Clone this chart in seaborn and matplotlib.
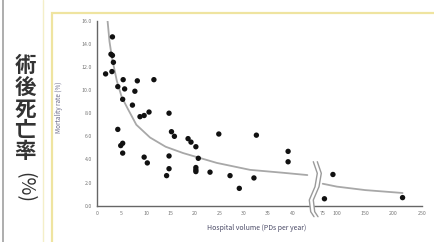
"""
術後死亡率 vs hospital volume (scatter + fitted curve, broken x axis).
"""

import matplotlib
matplotlib.use("Agg")
import matplotlib.pyplot as plt
from matplotlib.patches import Polygon, Rectangle
import seaborn as sns
import pandas as pd
import numpy as np

# --- data ---
volume = [1.7, 3.1, 2.8, 3.1, 3.3, 3.0, 4.2, 5.3, 5.6, 5.2, 4.2, 4.8, 5.2, 5.2,
          7.2, 7.7, 8.2, 8.75, 9.6, 10.6, 11.6, 9.6, 10.25, 14.7, 15.2, 15.8,
          14.7, 14.7, 14.2, 18.6, 19.2, 20.2, 20.7, 20.2, 20.2, 20.2, 23.1,
          24.9, 27.2, 29.1, 32.1, 32.6, 39.1, 39.1, 93, 78, 216]
mortality = [11.4, 14.6, 13.1, 13.0, 12.4, 11.6, 10.3, 10.9, 10.1, 9.2, 6.6,
             5.2, 5.4, 4.55, 8.7, 9.9, 10.8, 7.7, 7.8, 8.1, 10.9, 4.2, 3.7,
             8.0, 6.4, 6.0, 4.3, 3.2, 2.6, 5.8, 5.5, 5.1, 4.1, 3.3, 3.1, 2.95,
             2.9, 6.2, 2.6, 1.5, 2.4, 6.1, 4.7, 3.8, 2.7, 0.6, 0.7]

curve_left_x = [2.1, 2.5, 3, 4, 5, 6.35, 8, 10.8, 14, 17.6, 24.5, 31.3, 38, 44]
curve_left_y = [16.0, 14.2, 12.8, 10.8, 9.4, 8.3, 7.0, 5.9, 5.1, 4.55, 3.7, 3.1, 2.85, 2.65]
curve_right_x = [75, 100, 150, 216]
curve_right_y = [1.9, 1.65, 1.35, 1.1]

x_ticks = [0, 5, 10, 15, 20, 25, 30, 35, 40, 75, 100, 150, 200, 250]
y_ticks = [0, 2, 4, 6, 8, 10, 12, 14, 16]


# broken axis: linear up to 43, squeezed after 50
def forward(x):
    x = np.asarray(x, dtype=float)
    return np.where(x <= 43, x,
                    np.where(x < 50, 43 + (x - 43) * (0.3 / 7),
                             43.3 + (x - 50) * 0.116))


def inverse(u):
    u = np.asarray(u, dtype=float)
    return np.where(u <= 43, u,
                    np.where(u < 43.3, 43 + (u - 43) * 7 / 0.3,
                             50 + (u - 43.3) / 0.116))


sns.set_style("white")
plt.rcParams['font.family'] = ['Noto Sans CJK JP', 'DejaVu Sans']

W, H = 434, 242
fig = plt.figure(figsize=(W / 100, H / 100), dpi=100)

# slide decorations
fig.add_artist(plt.Line2D([3 / W, 3 / W], [0, 1], color="#a0a0a0", lw=1.2))
fig.add_artist(plt.Line2D([43 / W, 43 / W], [0, 1], color="#f4efc8", lw=1.0))
fig.add_artist(Rectangle((52 / W, -0.1), 1, 1 - 13 / H + 0.1, fill=False,
                         edgecolor="#efe4a0", lw=1.6))

# vertical japanese label
for i, ch in enumerate("術後死亡率"):
    fig.text(25 / W, 1 - (66 + i * 21.5) / H, ch, fontsize=15.5, color="#333333",
             ha="center", va="center", fontweight="bold")
fig.text(25 / W, 1 - 187 / H, "(%)", fontsize=14, color="#333333",
         ha="center", va="center", rotation=-90)

ax = fig.add_axes([97.3 / W, (H - 205.7) / H, 324.5 / W, 185 / H])
ax.set_xscale("function", functions=(forward, inverse))

df = pd.DataFrame({"volume": volume, "mortality": mortality})
left = pd.DataFrame({"x": curve_left_x, "y": curve_left_y})
right = pd.DataFrame({"x": curve_right_x, "y": curve_right_y})

sns.lineplot(data=left, x="x", y="y", sort=False, color="#a8a8a8", lw=1.3, ax=ax)
sns.lineplot(data=right, x="x", y="y", sort=False, color="#a8a8a8", lw=1.3, ax=ax)
sns.scatterplot(data=df, x="volume", y="mortality", color="#111111", s=15,
                edgecolor="none", ax=ax, zorder=5)

ax.set_xlim(0, 250)
ax.set_ylim(0, 16)
ax.set_xticks(x_ticks)
ax.set_xticklabels([str(t) for t in x_ticks])
ax.set_yticks(y_ticks)
ax.set_yticklabels([f"{t:.1f}" for t in y_ticks])
ax.tick_params(axis="both", labelsize=3.8, colors="#777777", length=2, width=0.6,
               pad=3, direction="inout")
for side in ["top", "right"]:
    ax.spines[side].set_visible(False)
for side in ["left", "bottom"]:
    ax.spines[side].set_color("#666666")
    ax.spines[side].set_linewidth(1.0)
ax.patch.set_alpha(0)

ax.set_xlabel("Hospital volume (PDs per year)", fontsize=5, color="#4a4a66",
              labelpad=10)
ax.set_ylabel("Mortality rate (%)", fontsize=4.5, color="#6a6a88", labelpad=12)
ax.yaxis.set_label_coords(-0.105, 0.53)
ax.xaxis.set_label_coords(0.49, -0.1)

# axis break symbol (double wavy line)
bx = np.array([313.3, 317.3, 315.0, 309.3, 310.7, 314.0])
by = np.array([161.7, 173.3, 186.7, 200.0, 211.7, 216.7])
fx = lambda px: (px - 97.3) / 324.5
fy = lambda py: (205.7 - py) / 185
poly = np.column_stack([np.r_[fx(bx), fx(bx[::-1] + 4)], np.r_[fy(by), fy(by[::-1])]])
ax.add_patch(Polygon(poly, closed=True, facecolor="white", edgecolor="none",
                     transform=ax.transAxes, clip_on=False, zorder=6))
for off in (0, 4):
    ax.plot(fx(bx + off), fy(by), color="#9a9a9a", lw=1.0,
            transform=ax.transAxes, clip_on=False, zorder=7)

fig.savefig("out.png", dpi=100)
